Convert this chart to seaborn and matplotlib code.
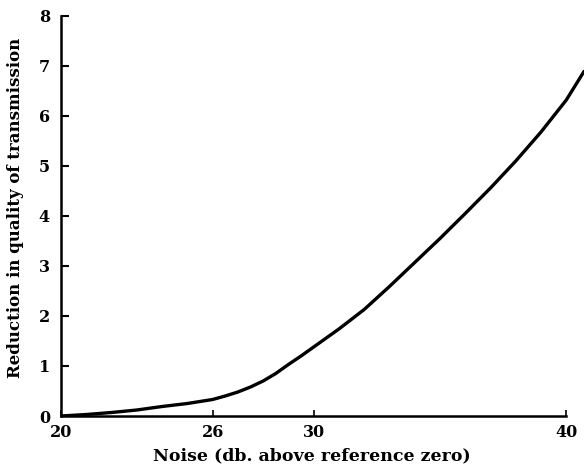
import numpy as np
import pandas as pd
import matplotlib
matplotlib.use('Agg')
import matplotlib.pyplot as plt
import seaborn as sns

# values
noise_db = [20, 21, 22, 23, 24, 25, 26, 26.5, 27, 27.5, 28, 28.5, 29, 29.5,
            30, 31, 32, 33, 34, 35, 36, 37, 38, 39, 40, 40.7]
reduction = [0.0, 0.03, 0.07, 0.12, 0.19, 0.25, 0.33, 0.40, 0.48, 0.58, 0.70,
             0.85, 1.03, 1.20, 1.38, 1.74, 2.13, 2.59, 3.07, 3.55, 4.05, 4.56,
             5.10, 5.68, 6.32, 6.89]
x_ticks = [20, 26, 30, 40]
y_ticks = [0, 1, 2, 3, 4, 5, 6, 7, 8]

df = pd.DataFrame({'noise': noise_db, 'reduction': reduction})

sns.set_style('ticks')
plt.rcParams['font.family'] = ['DejaVu Serif']
plt.rcParams['font.weight'] = 'bold'
for k in ['text.color', 'axes.labelcolor', 'xtick.color', 'ytick.color',
          'axes.edgecolor']:
    plt.rcParams[k] = 'black'

fig = plt.figure(figsize=(5.84, 4.69), dpi=100)
ax = fig.add_axes([0.1045, 0.113, 0.8955, 0.853])

sns.lineplot(data=df, x='noise', y='reduction', color='black', lw=2.4, ax=ax)

ax.set_xlim(20, 40.7)
ax.set_ylim(0, 8)
ax.set_xticks(x_ticks)
ax.set_yticks(y_ticks)
ax.set_xticklabels([str(t) for t in x_ticks], fontsize=11.5, fontweight='bold')
ax.set_yticklabels([str(t) for t in y_ticks], fontsize=11.5, fontweight='bold')

sns.despine(ax=ax)
ax.spines['bottom'].set_bounds(20, 40)
ax.spines['left'].set_linewidth(1.8)
ax.spines['bottom'].set_linewidth(1.8)
ax.tick_params(axis='y', direction='in', length=6, width=1.5, pad=8)
ax.tick_params(axis='x', direction='in', length=4, width=1.2, pad=6)

ax.set_xlabel('Noise (db. above reference zero)', fontsize=12.5, fontweight='bold')
ax.set_ylabel('Reduction in quality of transmission', fontsize=12, fontweight='bold')
ax.xaxis.set_label_coords(0.479, -0.078)
ax.yaxis.set_label_coords(-0.071, 0.52)

fig.savefig('out.png', dpi=100)
plt.close()
